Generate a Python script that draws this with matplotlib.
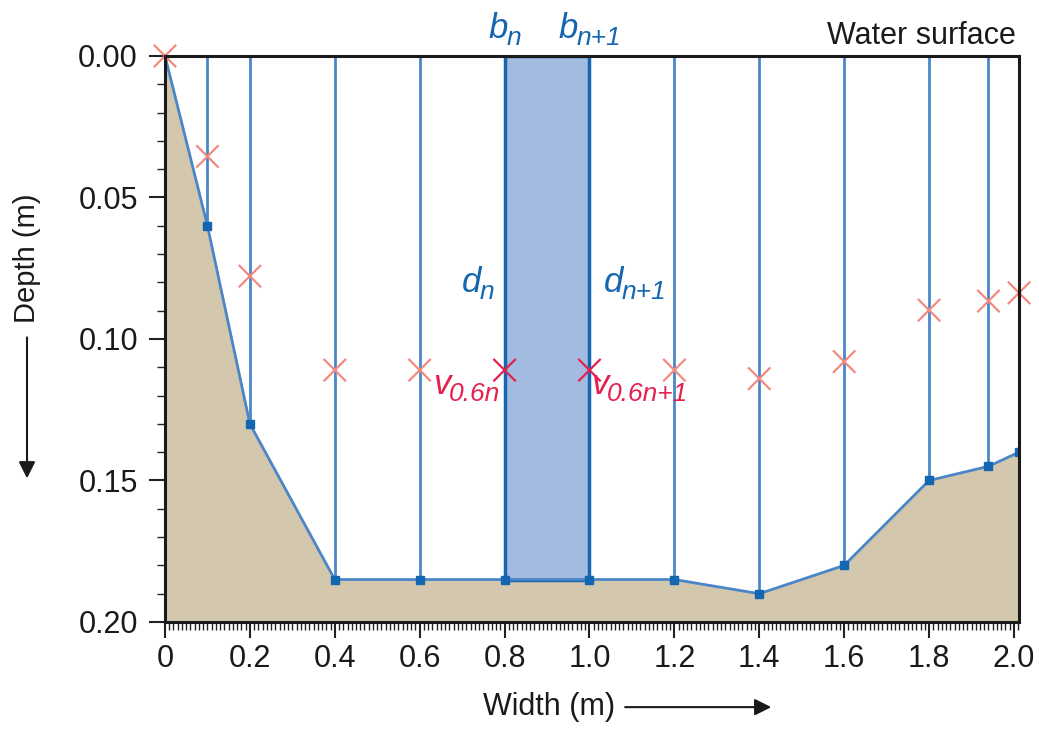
import matplotlib
matplotlib.use("Agg")
import matplotlib.pyplot as plt
from matplotlib.ticker import MultipleLocator, FuncFormatter
from matplotlib.patches import Rectangle, FancyArrowPatch
from matplotlib.transforms import offset_copy

plt.rcParams['font.family'] = ['Liberation Sans', 'DejaVu Sans']

# stations across the channel (m) and bed depth (m)
width = [0.0, 0.1, 0.2, 0.4, 0.6, 0.8, 1.0, 1.2, 1.4, 1.6, 1.8, 1.94, 2.012]
depth = [0.0, 0.06, 0.13, 0.185, 0.185, 0.185, 0.185, 0.185, 0.19, 0.18, 0.15, 0.145, 0.14]
# depth of velocity measurement (0.6 of depth)
v_depth = [0.0, 0.0355, 0.0778, 0.111, 0.111, 0.111, 0.111, 0.111, 0.114, 0.108, 0.0898, 0.0866, 0.0837]
# highlighted segment
seg_left, seg_right = 0.8, 1.0

line_blue = '#4b86c8'
dark_blue = '#1466b0'
bed_col = '#d3c7ad'
salmon = '#f28a80'
crimson = '#e5204f'
ink = '#1a1a1a'

fig = plt.figure(figsize=(10.39, 7.29), dpi=100)
ax = fig.add_axes([0.1588, 0.1468, 0.8220, 0.7764])

ax.fill_between(width, depth, 0.20, color=bed_col, zorder=1)

for x, d in zip(width[1:], depth[1:]):
    if x in (seg_left, seg_right):
        continue
    ax.plot([x, x], [0, d], color=line_blue, lw=2, zorder=2)

seg_d = depth[width.index(seg_left)]
ax.add_patch(Rectangle((seg_left, 0), seg_right - seg_left, seg_d,
                       facecolor='#a3bbe0', edgecolor=dark_blue, lw=2.5, zorder=3))

ax.plot(width, depth, color=line_blue, lw=2, zorder=4)
ax.plot(width[1:], depth[1:], ls='none', marker='s', ms=6, color=dark_blue, zorder=5)

cols = [crimson if x in (seg_left, seg_right) else salmon for x in width]
ax.scatter(width, v_depth, marker='x', s=260, c=cols, linewidths=1.6, zorder=6, clip_on=False)

ax.set_xlim(0, 2.012)
ax.set_ylim(0.20, 0.0)

ax.xaxis.set_major_locator(MultipleLocator(0.2))
ax.xaxis.set_minor_locator(MultipleLocator(0.01))
ax.yaxis.set_major_locator(MultipleLocator(0.05))
ax.yaxis.set_minor_locator(MultipleLocator(0.01))
ax.xaxis.set_major_formatter(FuncFormatter(lambda v, p: '0' if abs(v) < 1e-9 else f'{v:.1f}'))
ax.yaxis.set_major_formatter(FuncFormatter(lambda v, p: f'{v:.2f}'))

ax.tick_params(which='major', length=11.5, width=1.5, labelsize=22, color='#222222',
               labelcolor=ink)
ax.tick_params(axis='x', which='major', pad=4)
ax.tick_params(axis='y', which='major', pad=8)
ax.tick_params(which='minor', length=5.5, width=1, color='#222222')
for s in ax.spines.values():
    s.set_linewidth(2.2)
    s.set_color(ink)
    s.set_zorder(7)

fig.canvas.draw()
renderer = fig.canvas.get_renderer()


def sub_label(x, y, main, sub, color, ha='center'):
    # italic letter followed by a smaller, lowered italic subscript
    t = ax.text(x, y, main, color=color, fontsize=25, style='italic', ha='left', va='baseline', zorder=8)
    bb = t.get_window_extent(renderer)
    s = ax.text(x, y, sub, color=color, fontsize=19, style='italic', ha='left', va='baseline', zorder=8,
                transform=offset_copy(ax.transData, fig=fig, x=bb.width * 72 / 100 - 1, y=-5, units='points'))
    sb = s.get_window_extent(renderer)
    total = (sb.x1 - bb.x0)
    if ha == 'center':
        shift = -total / 2
    elif ha == 'right':
        shift = -total
    else:
        shift = 0
    t.set_transform(offset_copy(ax.transData, fig=fig, x=shift * 72 / 100, units='points'))
    s.set_transform(offset_copy(ax.transData, fig=fig, x=(bb.width + shift) * 72 / 100 - 1, y=-5, units='points'))


sub_label(0.80, -0.0065, 'b', 'n', dark_blue)
sub_label(1.00, -0.0065, 'b', 'n+1', dark_blue)
sub_label(0.738, 0.0835, 'd', 'n', dark_blue)
sub_label(1.107, 0.0835, 'd', 'n+1', dark_blue)
sub_label(0.79, 0.1195, 'v', '0.6n', crimson, ha='right')
sub_label(1.003, 0.1195, 'v', '0.6n+1', crimson, ha='left')
ax.text(2.005, -0.0042, 'Water surface', color=ink, fontsize=22, ha='right', va='baseline')

# axis titles with arrows
fig.text(0.528, 0.030, 'Width (m)', fontsize=22, ha='center', va='center', color=ink)
fig.add_artist(FancyArrowPatch(
    (0.599, 0.030), (0.745, 0.030), transform=fig.transFigure,
    arrowstyle='-|>', mutation_scale=25, lw=1.5, color=ink))
fig.text(0.026, 0.646, 'Depth (m)', fontsize=21, rotation=90, ha='center', va='center', color=ink)
fig.add_artist(FancyArrowPatch(
    (0.026, 0.541), (0.026, 0.34), transform=fig.transFigure,
    arrowstyle='-|>', mutation_scale=25, lw=1.5, color=ink))

fig.savefig('out.png', dpi=100)
